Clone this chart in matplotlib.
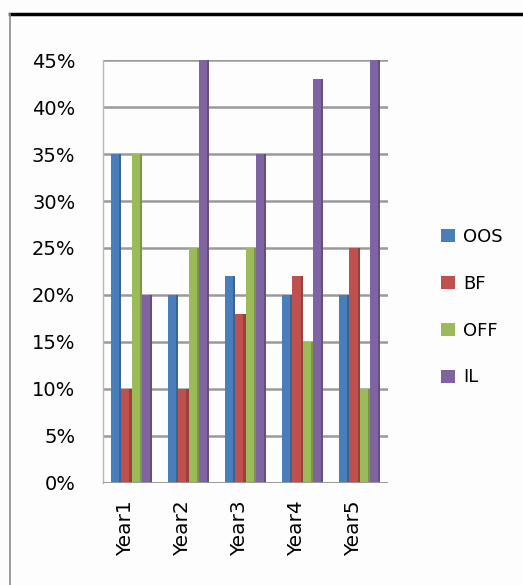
import numpy as np
from matplotlib import pyplot as plt
from matplotlib.lines import Line2D
from matplotlib.patches import Patch

# datos
anios = ['Year1', 'Year2', 'Year3', 'Year4', 'Year5']
oos = [35, 20, 22, 20, 20]
bf = [10, 10, 18, 22, 25]
off = [35, 25, 25, 15, 10]
il = [20, 45, 35, 43, 45]

series = ['OOS', 'BF', 'OFF', 'IL']
colores = ['#4a7ebb', '#c0504d', '#9bbb59', '#8064a2']
sombras = ['#3a6396', '#98403d', '#7c9647', '#654f81']

fig = plt.figure(figsize=(5.23, 5.85), dpi=100, facecolor='#fdfdfd')
ax = fig.add_axes([0.197, 0.175, 0.545, 0.722])
ax.set_facecolor('#fdfdfd')

x = np.arange(len(anios))
ancho = 0.18
for k, vals in enumerate([oos, bf, off, il]):
    pos = x + (k - 1.5) * ancho
    ax.bar(pos, vals, ancho, color=colores[k], zorder=3, linewidth=0)
    # franja oscura a la derecha para que parezca 3D
    ax.bar(pos + ancho * 0.4, vals, ancho * 0.2, color=sombras[k], zorder=3, linewidth=0)

ax.set_xlim(-0.5, len(anios) - 0.5)
ax.set_ylim(0, 45)
ax.set_yticks(np.arange(0, 46, 5))
ax.set_yticklabels([str(v) + '%' for v in range(0, 46, 5)], fontsize=14)
ax.set_xticks(x - 0.1)
ax.set_xticklabels(anios, rotation=90, fontsize=14.5)
ax.tick_params(length=0)
ax.tick_params(axis='x', pad=13)
ax.tick_params(axis='y', pad=20)

ax.grid(axis='y', color='#9a9a9a', linewidth=1.8, zorder=0)
for s in ['top', 'right', 'bottom']:
    ax.spines[s].set_visible(False)
ax.spines['left'].set_color('#b8b8c8')
ax.spines['left'].set_linewidth(1)
ax.axhline(0, color='#9a9a9a', linewidth=2, zorder=4)

handles = [Patch(facecolor=c, edgecolor='none') for c in colores]
fig.legend(handles, series, loc='center left', bbox_to_anchor=(0.813, 0.475),
           frameon=False, fontsize=13, labelspacing=1.6, handlelength=0.75,
           handleheight=0.75, handletextpad=0.45)

# marco de la figura
fig.add_artist(Line2D([10 / 523, 1], [1 - 14 / 585] * 2, transform=fig.transFigure,
                      color='black', linewidth=2.5))
fig.add_artist(Line2D([10 / 523] * 2, [0, 1 - 14 / 585], transform=fig.transFigure,
                      color='#8a8a8a', linewidth=1.2))

plt.savefig('out.png', dpi=100, facecolor=fig.get_facecolor())
